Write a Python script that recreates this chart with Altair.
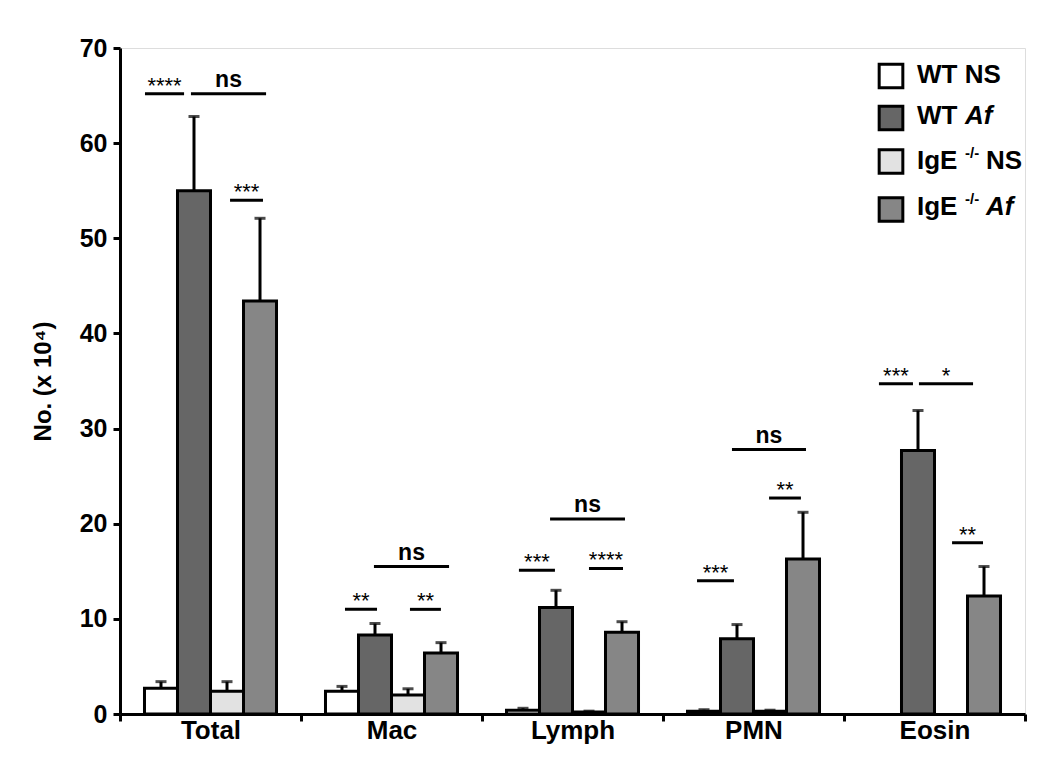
import altair as alt
import pandas as pd

# ---------------- data ----------------
categories = ["Total", "Mac", "Lymph", "PMN", "Eosin"]
groups = ["WT NS", "WT Af", "IgE-/- NS", "IgE-/- Af"]
colors = ["#ffffff", "#666666", "#e2e2e2", "#868686"]

wt_ns_mean = [2.7, 2.4, 0.4, 0.3, None]
wt_ns_err = [0.7, 0.5, 0.2, 0.15, None]
wt_af_mean = [55.0, 8.3, 11.2, 7.9, 27.7]
wt_af_err = [7.8, 1.2, 1.8, 1.5, 4.2]
ige_ns_mean = [2.4, 2.0, 0.2, 0.3, None]
ige_ns_err = [1.0, 0.65, 0.1, 0.1, None]
ige_af_mean = [43.4, 6.4, 8.6, 16.3, 12.4]
ige_af_err = [8.7, 1.1, 1.1, 4.9, 3.1]

sig_text = ["****", "ns", "***",
            "**", "**", "ns",
            "***", "****", "ns",
            "***", "**", "ns",
            "***", "*", "**"]
sig_x1 = [0.138, 0.392, 0.608,
          1.243, 1.602, 1.403,
          2.204, 2.591, 2.376,
          3.188, 3.586, 3.381,
          4.193, 4.414, 4.597]
sig_x2 = [0.354, 0.807, 0.790,
          1.420, 1.773, 1.818,
          2.403, 2.779, 2.790,
          3.392, 3.762, 3.790,
          4.381, 4.713, 4.768]
sig_y = [65.2, 65.2, 54.0,
         11.0, 11.0, 15.5,
         15.1, 15.3, 20.5,
         14.0, 22.7, 27.8,
         34.7, 34.7, 18.0]

Y_TITLE = "No. (x 10\u2074)"
FONT = "Liberation Sans"

# ---------------- tables ----------------
rows = []
for g, means, errs in zip(groups,
                          [wt_ns_mean, wt_af_mean, ige_ns_mean, ige_af_mean],
                          [wt_ns_err, wt_af_err, ige_ns_err, ige_af_err]):
    for c, m, e in zip(categories, means, errs):
        if m is None:
            continue
        rows.append({"category": c, "group": g, "mean": m, "top": m + e})
df = pd.DataFrame(rows)

sig = pd.DataFrame({"label": sig_text, "x1": sig_x1, "x2": sig_x2, "y": sig_y})
sig["mid"] = (sig["x1"] + sig["x2"]) / 2

# ---------------- scales / axes ----------------
y_scale = alt.Scale(domain=[0, 70], nice=False, zero=True)
y_axis = alt.Axis(values=list(range(0, 71, 10)), tickSize=7, tickWidth=3, domainWidth=3,
                  labelFontSize=25, labelFontWeight="bold", labelPadding=6,
                  titleFontSize=24, titleFontWeight="bold", titlePadding=24,
                  grid=False, domainColor="black", tickColor="black",
                  labelColor="black", titleColor="black", labelFont=FONT, titleFont=FONT)

x_axis = alt.Axis(title=None, labelAngle=0, tickBand="extent", tickSize=7,
                  tickWidth=3, domainWidth=3, labelFontSize=26,
                  labelFontWeight="bold", labelPadding=-4, grid=False,
                  domainColor="black", tickColor="black", labelColor="black",
                  labelFont=FONT)
x_scale = alt.Scale(paddingInner=0, paddingOuter=0)
xoff = alt.XOffset("group:N", sort=groups,
                   scale=alt.Scale(paddingInner=0, paddingOuter=0.742))

base = alt.Chart(df)
bars = base.mark_bar(stroke="black", strokeWidth=3).encode(
    x=alt.X("category:N", sort=categories, scale=x_scale, axis=x_axis),
    xOffset=xoff,
    y=alt.Y("mean:Q", scale=y_scale, title=Y_TITLE, axis=y_axis),
    fill=alt.Fill("group:N", sort=groups,
                  scale=alt.Scale(domain=groups, range=colors), legend=None),
)
err_rule = base.mark_rule(color="black", strokeWidth=3).encode(
    x=alt.X("category:N", sort=categories, scale=x_scale),
    xOffset=xoff,
    y=alt.Y("mean:Q", scale=y_scale, title=Y_TITLE),
    y2="top:Q",
)
err_cap = base.mark_tick(color="black", thickness=3, size=11).encode(
    x=alt.X("category:N", sort=categories, scale=x_scale),
    xOffset=xoff,
    y=alt.Y("top:Q", scale=y_scale, title=Y_TITLE),
)
bar_part = alt.layer(bars, err_rule, err_cap)

xq = alt.Scale(domain=[0, 5], nice=False, zero=False)
sbase = alt.Chart(sig)
sig_lines = sbase.mark_rule(color="black", strokeWidth=3).encode(
    x=alt.X("x1:Q", scale=xq, axis=None), x2="x2:Q",
    y=alt.Y("y:Q", scale=y_scale, title=Y_TITLE),
)
sig_stars = sbase.transform_filter("datum.label != 'ns'").mark_text(
    font=FONT, fontSize=22, fontWeight="normal", color="black",
    baseline="alphabetic", dy=-1).encode(
    x=alt.X("mid:Q", scale=xq, axis=None),
    y=alt.Y("y:Q", scale=y_scale, title=Y_TITLE),
    text="label:N",
)
sig_ns = sbase.transform_filter("datum.label == 'ns'").mark_text(
    font=FONT, fontSize=23, fontWeight="bold", color="black",
    baseline="alphabetic", dy=-7).encode(
    x=alt.X("mid:Q", scale=xq, axis=None),
    y=alt.Y("y:Q", scale=y_scale, title=Y_TITLE),
    text="label:N",
)
sig_part = alt.layer(sig_lines, sig_stars, sig_ns)

# ---------------- manual legend (rich text) ----------------
one = alt.Data(values=[{}])
leg_layers = []
box_y = [28, 70, 113.5, 161.5]
base_y = [35, 76, 121, 167]
for i, c in enumerate(colors):
    leg_layers.append(alt.Chart(one).mark_square(size=560, fill=c, stroke="black",
                                                 strokeWidth=3, opacity=1).encode(
        x=alt.value(771), y=alt.value(box_y[i])))

def txt(s, x, y, size=26, style="normal"):
    return alt.Chart(one).mark_text(text=s, font=FONT, fontSize=size, fontWeight="bold",
                                    fontStyle=style, align="left", baseline="alphabetic",
                                    color="black").encode(x=alt.value(x), y=alt.value(y))

leg_layers += [
    txt("WT NS", 797, base_y[0]),
    txt("WT", 797, base_y[1]), txt("Af", 845, base_y[1], style="italic"),
    txt("IgE", 797, base_y[2]), txt("-/-", 845, base_y[2] - 11, size=15),
    txt("NS", 866, base_y[2]),
    txt("IgE", 797, base_y[3]), txt("-/-", 845, base_y[3] - 11, size=15),
    txt("Af", 866, base_y[3], style="italic"),
]

chart = alt.layer(bar_part, sig_part, *leg_layers).resolve_scale(
    x="independent"
).properties(
    width=905, height=666,
    autosize=alt.AutoSizeParams(type="none"),
    padding={"left": 112, "top": 40, "right": 17, "bottom": 39},
).configure_view(stroke=None).configure(font=FONT)

chart.save("out.html", embed_options={"renderer": "svg", "actions": False})
